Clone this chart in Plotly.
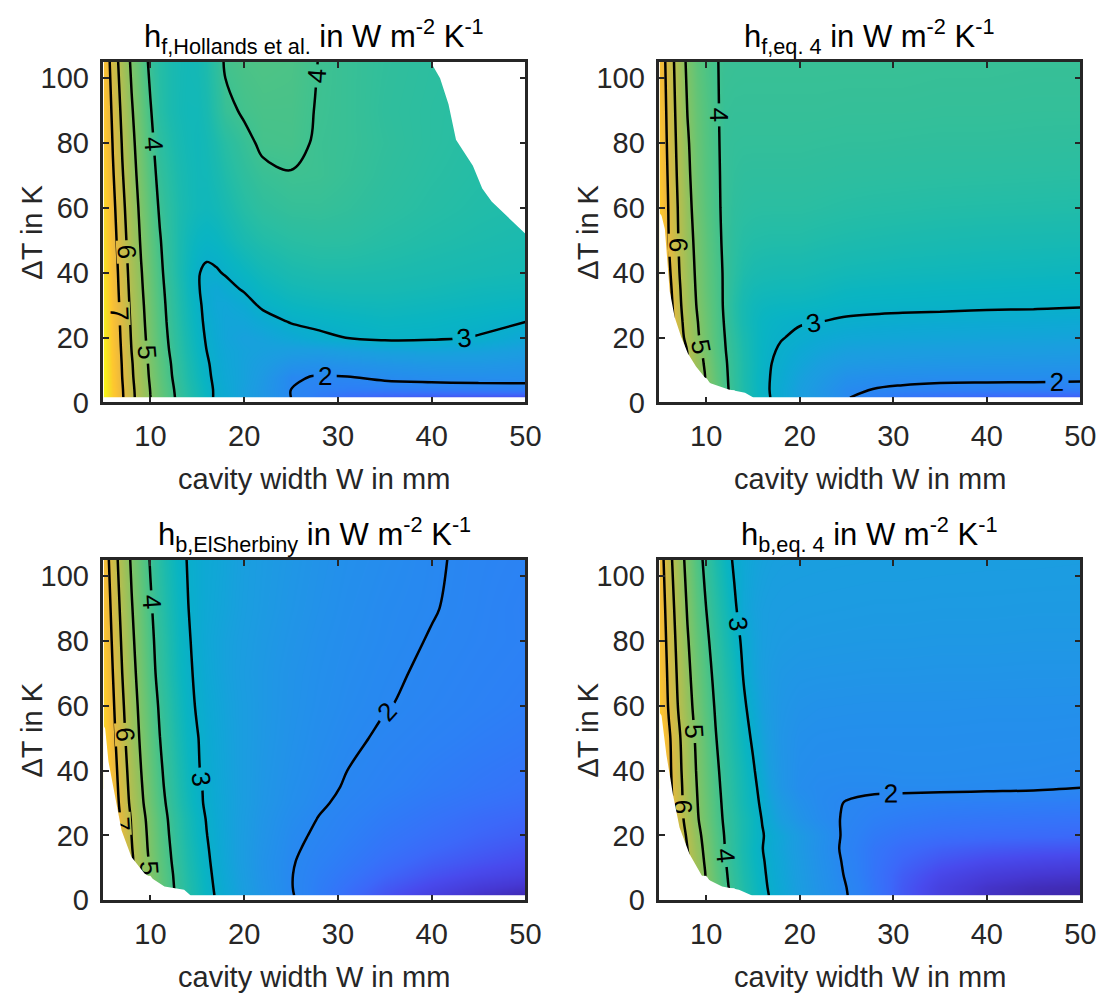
import math
import plotly.graph_objects as go

# ---------------- data ----------------
W = [5, 6, 7, 8, 9, 10, 11, 12, 13, 14, 15, 16, 17, 18, 20, 22, 25, 28, 31, 35, 40, 45, 50]   # cavity width in mm
DT = [1.5, 4, 8, 12, 16, 20, 25, 30, 35, 40, 50, 60, 70, 80, 90, 105]                          # temperature difference in K
N = None

H_F_HOLLANDS = [
    [9.89, 8.26, 7.10, 6.23, 5.55, 5.01, 4.57, 4.20, 3.88, 3.62, 3.38, 3.18, 2.92, 2.84, 2.57, 2.35, 2.00, 1.80, 1.68, 1.60, 1.55, 1.52, 1.50],
    [9.86, 8.23, 7.07, 6.20, 5.52, 4.98, 4.53, 4.17, 3.85, 3.58, 3.35, 3.15, 2.93, 2.81, 2.58, 2.36, 2.00, 1.90, 1.86, 1.85, 1.85, 1.86, 1.86],
    [9.76, 8.14, 6.99, 6.12, 5.45, 4.91, 4.47, 4.10, 3.79, 3.52, 3.29, 3.09, 2.90, 2.78, 2.62, 2.40, 2.02, 1.99, 2.00, 2.07, 2.12, 2.14, 2.15],
    [9.68, 8.07, 6.93, 6.07, 5.40, 4.86, 4.42, 4.06, 3.75, 3.48, 3.25, 3.05, 2.88, 2.76, 2.62, 2.48, 2.25, 2.20, 2.24, 2.30, 2.36, 2.36, 2.30],
    [9.58, 7.99, 6.85, 5.99, 5.33, 4.80, 4.36, 4.00, 3.69, 3.43, 3.20, 3.00, 2.85, 2.74, 2.64, 2.58, 2.50, 2.48, 2.55, 2.62, 2.66, 2.62, 2.52],
    [9.50, 7.91, 6.78, 5.93, 5.27, 4.74, 4.31, 3.95, 3.65, 3.39, 3.16, 2.96, 2.82, 2.70, 2.60, 2.64, 2.78, 2.92, 3.01, 3.10, 3.07, 2.98, 2.75],
    [9.40, 7.83, 6.71, 5.87, 5.21, 4.69, 4.26, 3.90, 3.60, 3.34, 3.12, 2.92, 2.80, 2.70, 2.72, 2.84, 3.03, 3.10, 3.15, 3.20, 3.17, 3.10, 3.01],
    [9.30, 7.75, 6.64, 5.80, 5.16, 4.64, 4.22, 3.86, 3.56, 3.31, 3.09, 2.89, 2.76, 2.74, 2.85, 3.07, 3.20, 3.25, 3.28, 3.30, 3.26, 3.22, 3.17],
    [9.20, 7.66, 6.57, 5.74, 5.10, 4.59, 4.17, 3.82, 3.53, 3.27, 3.05, 2.86, 2.80, 2.88, 3.04, 3.20, 3.33, 3.38, 3.40, 3.40, 3.36, 3.30, 3.28],
    [9.11, 7.59, 6.50, 5.68, 5.05, 4.54, 4.13, 3.76, 3.48, 3.25, 3.03, 2.93, 2.96, 3.03, 3.18, 3.32, 3.45, 3.50, 3.50, 3.48, 3.44, 3.40, 3.36],
    [8.91, 7.42, 6.35, 5.56, 4.93, 4.44, 4.04, 3.72, 3.48, 3.30, 3.18, 3.14, 3.18, 3.26, 3.44, 3.56, 3.66, 3.70, 3.69, 3.62, 3.55, 3.50, 3.46],
    [8.72, 7.26, 6.22, 5.44, 4.83, 4.34, 3.94, 3.68, 3.50, 3.38, 3.30, 3.28, 3.33, 3.42, 3.62, 3.76, 3.85, 3.86, 3.81, 3.72, 3.63, 3.56, 3.52],
    [8.52, 7.09, 6.07, 5.31, 4.71, 4.24, 3.84, 3.62, 3.47, 3.37, 3.31, 3.32, 3.42, 3.54, 3.76, 3.90, 3.98, 3.96, 3.88, 3.77, 3.67, 3.60, N],
    [8.34, 6.94, 5.94, 5.19, 4.61, 4.14, 3.74, 3.55, 3.42, 3.34, 3.30, 3.36, 3.50, 3.65, 3.88, 4.08, 4.10, 3.95, 3.90, 3.80, 3.70, 3.62, N],
    [8.15, 6.78, 5.80, 5.07, 4.50, 4.04, 3.64, 3.47, 3.37, 3.32, 3.32, 3.42, 3.65, 3.88, 4.06, 4.13, 4.13, 3.97, 3.90, 3.78, 3.70, 3.65, N],
    [7.92, 6.53, 5.59, 4.88, 4.33, 3.88, 3.62, 3.47, 3.38, 3.34, 3.37, 3.50, 3.75, 4.06, 4.17, 4.22, 4.18, 3.99, 3.90, 3.80, 3.72, N, N],
]

H_F_EQ4 = [
    [N, N, N, N, N, N, N, N, N, 3.55, 3.30, 3.12, 2.98, 2.82, 2.55, 2.34, 2.02, 1.86, 1.75, 1.68, 1.63, 1.60, 1.58],
    [N, N, N, N, N, N, 4.55, 4.13, 3.80, 3.52, 3.29, 3.10, 2.97, 2.82, 2.56, 2.36, 2.07, 1.99, 1.94, 1.90, 1.88, 1.87, 1.86],
    [N, N, N, N, 5.45, 4.94, 4.47, 4.10, 3.78, 3.50, 3.28, 3.10, 2.98, 2.86, 2.62, 2.44, 2.20, 2.14, 2.12, 2.10, 2.10, 2.10, 2.09],
    [N, N, N, 6.00, 5.40, 4.85, 4.42, 4.07, 3.77, 3.50, 3.29, 3.12, 3.00, 2.90, 2.72, 2.56, 2.40, 2.36, 2.34, 2.32, 2.31, 2.30, 2.29],
    [N, N, 6.60, 5.97, 5.28, 4.76, 4.35, 4.03, 3.74, 3.48, 3.28, 3.13, 3.04, 2.95, 2.82, 2.70, 2.58, 2.55, 2.53, 2.51, 2.50, 2.49, 2.47],
    [N, 7.90, 6.50, 5.70, 5.12, 4.66, 4.30, 4.00, 3.70, 3.45, 3.28, 3.15, 3.07, 3.02, 2.93, 2.84, 2.76, 2.73, 2.71, 2.69, 2.67, 2.66, 2.64],
    [N, 7.70, 6.35, 5.60, 5.05, 4.60, 4.27, 3.96, 3.63, 3.40, 3.26, 3.17, 3.12, 3.08, 3.03, 3.01, 2.95, 2.92, 2.90, 2.88, 2.86, 2.85, 2.83],
    [N, 7.50, 6.25, 5.50, 4.97, 4.55, 4.24, 3.93, 3.60, 3.40, 3.29, 3.24, 3.22, 3.21, 3.20, 3.17, 3.12, 3.10, 3.09, 3.08, 3.06, 3.05, 3.03],
    [8.70, 7.35, 6.18, 5.45, 4.92, 4.50, 4.22, 3.93, 3.64, 3.45, 3.36, 3.33, 3.32, 3.31, 3.31, 3.28, 3.22, 3.20, 3.19, 3.17, 3.16, 3.14, 3.13],
    [8.60, 7.20, 6.10, 5.40, 4.88, 4.48, 4.20, 3.93, 3.68, 3.52, 3.45, 3.42, 3.41, 3.40, 3.40, 3.37, 3.33, 3.31, 3.29, 3.28, 3.26, 3.25, 3.23],
    [8.45, 7.00, 6.02, 5.32, 4.80, 4.42, 4.16, 3.90, 3.72, 3.62, 3.58, 3.57, 3.56, 3.56, 3.56, 3.53, 3.50, 3.48, 3.46, 3.44, 3.42, 3.41, 3.40],
    [8.30, 6.92, 5.96, 5.24, 4.70, 4.36, 4.12, 3.89, 3.76, 3.71, 3.69, 3.68, 3.68, 3.68, 3.68, 3.66, 3.63, 3.61, 3.60, 3.58, 3.57, 3.56, 3.55],
    [8.15, 6.82, 5.86, 5.15, 4.64, 4.32, 4.10, 3.89, 3.80, 3.77, 3.76, 3.76, 3.76, 3.76, 3.76, 3.75, 3.73, 3.72, 3.71, 3.70, 3.69, 3.68, 3.67],
    [8.05, 6.72, 5.78, 5.08, 4.60, 4.30, 4.10, 3.86, 3.83, 3.82, 3.82, 3.82, 3.82, 3.82, 3.82, 3.81, 3.80, 3.80, 3.79, 3.78, 3.78, 3.77, 3.76],
    [7.95, 6.64, 5.70, 4.98, 4.55, 4.27, 4.07, 3.88, 3.86, 3.86, 3.86, 3.86, 3.86, 3.86, 3.86, 3.86, 3.85, 3.85, 3.85, 3.84, 3.84, 3.83, 3.83],
    [7.80, 6.52, 5.59, 4.85, 4.45, 4.20, 4.03, 3.93, 3.91, 3.90, 3.90, 3.90, 3.90, 3.90, 3.90, 3.90, 3.90, 3.90, 3.90, 3.89, 3.89, 3.88, 3.88],
]

H_B_ELSHERBINY = [
    [N, N, N, N, N, N, N, N, 3.88, 3.60, 3.36, 3.15, 2.97, 2.81, 2.52, 2.29, 2.02, 1.84, 1.71, 1.57, 1.44, 1.34, 1.27],
    [N, N, N, N, N, N, 4.55, 4.17, 3.85, 3.58, 3.34, 3.13, 2.95, 2.79, 2.50, 2.27, 2.01, 1.85, 1.74, 1.61, 1.50, 1.41, 1.35],
    [N, N, N, N, 5.50, 4.96, 4.50, 4.13, 3.82, 3.54, 3.31, 3.10, 2.92, 2.76, 2.48, 2.25, 2.01, 1.87, 1.78, 1.67, 1.57, 1.50, 1.45],
    [N, N, N, 6.11, 5.44, 4.90, 4.45, 4.08, 3.77, 3.50, 3.27, 3.07, 2.89, 2.73, 2.46, 2.24, 2.02, 1.90, 1.82, 1.72, 1.63, 1.57, 1.52],
    [N, N, 6.91, 6.05, 5.38, 4.84, 4.41, 4.04, 3.73, 3.47, 3.24, 3.04, 2.87, 2.72, 2.46, 2.26, 2.04, 1.93, 1.85, 1.76, 1.68, 1.62, 1.57],
    [N, 7.98, 6.84, 5.99, 5.33, 4.80, 4.36, 4.00, 3.69, 3.43, 3.20, 3.01, 2.85, 2.71, 2.47, 2.28, 2.06, 1.96, 1.88, 1.79, 1.72, 1.66, 1.62],
    [N, 7.89, 6.76, 5.92, 5.26, 4.74, 4.31, 3.95, 3.65, 3.39, 3.17, 2.98, 2.83, 2.70, 2.48, 2.30, 2.10, 1.99, 1.91, 1.83, 1.76, 1.70, 1.66],
    [N, 7.70, 6.60, 5.78, 5.14, 4.63, 4.22, 3.87, 3.57, 3.32, 3.10, 2.94, 2.81, 2.70, 2.50, 2.33, 2.15, 2.03, 1.95, 1.87, 1.80, 1.75, 1.71],
    [9.09, 7.58, 6.50, 5.70, 5.07, 4.57, 4.15, 3.81, 3.52, 3.27, 3.08, 2.93, 2.80, 2.69, 2.50, 2.34, 2.17, 2.06, 1.98, 1.91, 1.84, 1.79, 1.75],
    [8.97, 7.48, 6.42, 5.63, 5.01, 4.51, 4.10, 3.77, 3.48, 3.24, 3.04, 2.90, 2.78, 2.68, 2.50, 2.35, 2.19, 2.08, 2.00, 1.93, 1.86, 1.81, 1.77],
    [8.72, 7.29, 6.26, 5.49, 4.89, 4.41, 4.01, 3.69, 3.41, 3.18, 3.02, 2.87, 2.76, 2.67, 2.50, 2.37, 2.22, 2.11, 2.04, 1.97, 1.91, 1.86, 1.82],
    [8.55, 7.14, 6.13, 5.38, 4.79, 4.32, 3.93, 3.61, 3.34, 3.12, 2.96, 2.84, 2.74, 2.65, 2.50, 2.38, 2.24, 2.14, 2.07, 2.01, 1.95, 1.90, 1.86],
    [8.39, 7.00, 6.00, 5.26, 4.68, 4.21, 3.83, 3.52, 3.26, 3.08, 2.92, 2.80, 2.70, 2.62, 2.48, 2.38, 2.25, 2.16, 2.09, 2.03, 1.97, 1.92, 1.88],
    [8.17, 6.83, 5.87, 5.15, 4.59, 4.14, 3.78, 3.48, 3.23, 3.05, 2.88, 2.77, 2.69, 2.62, 2.50, 2.40, 2.28, 2.18, 2.11, 2.05, 1.99, 1.94, 1.90],
    [7.98, 6.68, 5.74, 5.05, 4.50, 4.07, 3.71, 3.42, 3.20, 3.01, 2.88, 2.79, 2.72, 2.66, 2.53, 2.43, 2.31, 2.21, 2.13, 2.06, 2.01, 1.95, 1.89],
    [7.72, 6.46, 5.57, 4.90, 4.38, 3.96, 3.63, 3.35, 3.13, 2.98, 2.87, 2.80, 2.75, 2.68, 2.55, 2.45, 2.34, 2.24, 2.16, 2.09, 2.02, 1.96, 1.92],
]

H_B_EQ4 = [
    [N, N, N, N, N, N, N, N, N, 3.58, 3.33, 3.12, 2.95, 2.79, 2.51, 2.28, 2.01, 1.78, 1.60, 1.44, 1.33, 1.27, 1.25],
    [N, N, N, N, N, N, 4.55, 4.13, 3.81, 3.54, 3.30, 3.10, 2.92, 2.77, 2.49, 2.26, 2.00, 1.77, 1.60, 1.45, 1.35, 1.30, 1.28],
    [N, N, N, N, 5.50, 4.95, 4.48, 4.08, 3.77, 3.50, 3.27, 3.07, 2.89, 2.74, 2.47, 2.24, 1.97, 1.76, 1.62, 1.50, 1.42, 1.38, 1.36],
    [N, N, N, 6.10, 5.43, 4.87, 4.41, 4.04, 3.72, 3.46, 3.23, 3.04, 2.87, 2.72, 2.45, 2.22, 1.95, 1.77, 1.66, 1.57, 1.51, 1.48, 1.46],
    [N, N, 6.86, 6.00, 5.33, 4.80, 4.36, 4.00, 3.69, 3.43, 3.20, 3.01, 2.83, 2.68, 2.42, 2.20, 1.93, 1.78, 1.70, 1.64, 1.60, 1.58, 1.57],
    [N, 7.75, 6.67, 5.86, 5.23, 4.73, 4.32, 3.97, 3.68, 3.43, 3.22, 3.03, 2.85, 2.70, 2.43, 2.22, 1.94, 1.82, 1.76, 1.72, 1.70, 1.69, 1.68],
    [N, 7.44, 6.44, 5.68, 5.09, 4.63, 4.24, 3.92, 3.65, 3.42, 3.22, 2.98, 2.74, 2.52, 2.27, 2.10, 1.97, 1.88, 1.84, 1.80, 1.78, 1.77, 1.76],
    [N, 7.40, 6.36, 5.62, 5.04, 4.58, 4.20, 3.88, 3.60, 3.36, 3.15, 2.92, 2.66, 2.43, 2.20, 2.07, 1.99, 1.94, 1.91, 1.88, 1.87, 1.86, 1.85],
    [8.70, 7.31, 6.32, 5.58, 5.00, 4.53, 4.16, 3.84, 3.57, 3.34, 3.12, 2.84, 2.55, 2.33, 2.12, 2.07, 2.05, 2.05, 2.06, 2.06, 2.05, 2.04, 2.01],
    [8.62, 7.25, 6.26, 5.53, 4.95, 4.49, 4.12, 3.80, 3.54, 3.31, 3.06, 2.76, 2.50, 2.32, 2.14, 2.10, 2.09, 2.09, 2.10, 2.10, 2.09, 2.08, 2.06],
    [8.54, 7.17, 6.18, 5.44, 4.87, 4.41, 4.03, 3.72, 3.45, 3.20, 2.93, 2.65, 2.45, 2.30, 2.18, 2.15, 2.14, 2.14, 2.14, 2.14, 2.13, 2.13, 2.12],
    [8.19, 6.89, 5.97, 5.28, 4.74, 4.30, 3.95, 3.66, 3.40, 3.07, 2.82, 2.58, 2.42, 2.33, 2.25, 2.22, 2.21, 2.20, 2.20, 2.20, 2.19, 2.19, 2.18],
    [8.04, 6.77, 5.85, 5.17, 4.63, 4.21, 3.86, 3.57, 3.30, 2.97, 2.70, 2.53, 2.43, 2.37, 2.33, 2.32, 2.31, 2.30, 2.30, 2.29, 2.29, 2.28, 2.28],
    [7.91, 6.64, 5.74, 5.06, 4.53, 4.11, 3.76, 3.48, 3.19, 2.90, 2.68, 2.55, 2.48, 2.44, 2.41, 2.40, 2.39, 2.38, 2.38, 2.37, 2.37, 2.36, 2.36],
    [7.77, 6.51, 5.62, 4.94, 4.42, 4.00, 3.66, 3.38, 3.08, 2.76, 2.62, 2.55, 2.51, 2.49, 2.47, 2.46, 2.45, 2.44, 2.44, 2.43, 2.43, 2.42, 2.42],
    [7.55, 6.31, 5.43, 4.77, 4.25, 3.84, 3.51, 3.23, 2.93, 2.78, 2.68, 2.62, 2.58, 2.56, 2.55, 2.54, 2.53, 2.52, 2.52, 2.51, 2.50, 2.50, 2.49],
]

# limits of the valid range (white = no result)
HOL_LIMIT_DT = [105, 100, 92, 81, 73, 66, 62, 58, 52]
HOL_LIMIT_W = [39.9, 40.9, 41.8, 42.6, 44.4, 45.4, 46.4, 47.8, 50.0]
FEQ4_LIMIT_DT = [58.5, 57.6, 53.5, 41.4, 34.3, 26.3, 20.2, 15.2, 11.1, 6.1, 4.0, 3.0, 1.5]
FEQ4_LIMIT_W = [5.0, 5.23, 5.58, 5.93, 6.1, 6.63, 7.33, 8.03, 8.91, 10.3, 12.4, 14.15, 15.04]
ELS_LIMIT_DT = [54.0, 52.9, 42.8, 31.6, 21.5, 13.4, 8.3, 4.3, 3.3, 1.5]
ELS_LIMIT_W = [5.0, 5.18, 5.53, 6.23, 6.93, 7.98, 9.38, 11.5, 13.6, 14.3]
BEQ4_LIMIT_DT = [58.0, 56.9, 44.8, 32.6, 22.5, 14.4, 7.3, 4.3, 3.3, 1.5]
BEQ4_LIMIT_W = [5.0, 5.23, 5.75, 6.45, 7.15, 8.2, 9.6, 11.7, 13.5, 14.9]

TITLES = [
    "h<sub>f,Hollands et al.</sub> in W m<sup>-2</sup> K<sup>-1</sup>",
    "h<sub>f,eq. 4</sub> in W m<sup>-2</sup> K<sup>-1</sup>",
    "h<sub>b,ElSherbiny</sub> in W m<sup>-2</sup> K<sup>-1</sup>",
    "h<sub>b,eq. 4</sub> in W m<sup>-2</sup> K<sup>-1</sup>",
]
X_LABEL = "cavity width W in mm"
Y_LABEL = "\u0394T in K"
X_TICKS = [10, 20, 30, 40, 50]
Y_TICKS = [0, 20, 40, 60, 80, 100]

# ---------------- styling ----------------
FONT = "Liberation Sans, Arial, Helvetica, sans-serif"
INK = "#262626"
ZMIN, ZMAX = 1.24, 9.9

PARULA = [
    (0.00, (62, 38, 168)), (0.05, (70, 56, 210)), (0.10, (72, 75, 238)), (0.15, (58, 108, 250)),
    (0.20, (44, 128, 245)), (0.25, (38, 140, 238)), (0.30, (32, 150, 230)), (0.35, (25, 159, 222)),
    (0.40, (12, 170, 210)), (0.45, (8, 180, 195)), (0.50, (30, 187, 172)), (0.55, (55, 192, 150)),
    (0.60, (85, 196, 128)), (0.65, (118, 196, 108)), (0.70, (150, 193, 92)), (0.75, (180, 190, 80)),
    (0.80, (208, 187, 70)), (0.85, (236, 185, 62)), (0.90, (254, 197, 48)), (0.95, (246, 223, 37)),
    (1.00, (249, 251, 20)),
]


def parula(p):
    p = min(max(p, 0.0), 1.0)
    for (p0, c0), (p1, c1) in zip(PARULA[:-1], PARULA[1:]):
        if p <= p1:
            t = (p - p0) / (p1 - p0)
            return "rgb(%d,%d,%d)" % tuple(round(a + (b - a) * t) for a, b in zip(c0, c1))
    return "rgb(%d,%d,%d)" % PARULA[-1][1]


# colour is logarithmic in h
COLORSCALE = []
for i in range(121):
    f = i / 120
    h = ZMIN + f * (ZMAX - ZMIN)
    p = (math.log(h) - math.log(ZMIN)) / (math.log(ZMAX) - math.log(ZMIN))
    COLORSCALE.append([f, parula(p)])

fig = go.Figure()

PANELS = [
    (H_F_HOLLANDS, "x", "y"),
    (H_F_EQ4, "x2", "y2"),
    (H_B_ELSHERBINY, "x3", "y3"),
    (H_B_EQ4, "x4", "y4"),
]

for H, xa, ya in PANELS:
    fig.add_trace(go.Contour(
        x=W, y=DT, z=H, xaxis=xa, yaxis=ya,
        zmin=ZMIN, zmax=ZMAX, colorscale=COLORSCALE, showscale=False,
        contours=dict(start=2, end=7, size=1, coloring="heatmap", showlabels=True,
                      labelfont=dict(family=FONT, size=26, color="black")),
        line=dict(color="black", width=2.5, smoothing=1),
        hoverinfo="skip",
    ))

# white masks where no result exists
masks = [
    (HOL_LIMIT_W + [W[-1]] + [None] + [W[0], W[-1], W[-1], W[0]],
     HOL_LIMIT_DT + [HOL_LIMIT_DT[0]] + [None] + [DT[0], DT[0], 0, 0], "x", "y"),
    (FEQ4_LIMIT_W + [W[-1], W[-1], W[0]], FEQ4_LIMIT_DT + [DT[0], 0, 0], "x2", "y2"),
    (ELS_LIMIT_W + [W[-1], W[-1], W[0]], ELS_LIMIT_DT + [DT[0], 0, 0], "x3", "y3"),
    (BEQ4_LIMIT_W + [W[-1], W[-1], W[0]], BEQ4_LIMIT_DT + [DT[0], 0, 0], "x4", "y4"),
]
for mx, my, xa, ya in masks:
    fig.add_trace(go.Scatter(x=mx, y=my, xaxis=xa, yaxis=ya, mode="lines", fill="toself",
                             fillcolor="white", line=dict(width=0, color="white"),
                             hoverinfo="skip", showlegend=False))

FIG_W, FIG_H = 1119, 998
XD = [[105 / FIG_W, 533 / FIG_W], [669 / FIG_W, 1096 / FIG_W]]
YD = [[(FIG_H - 409) / FIG_H, (FIG_H - 63) / FIG_H], [(FIG_H - 915) / FIG_H, (FIG_H - 569) / FIG_H]]

axis_common = dict(showline=True, linecolor=INK, linewidth=2.5, mirror="allticks",
                   ticks="inside", ticklen=6, tickwidth=2, tickcolor=INK,
                   showgrid=False, zeroline=False,
                   tickfont=dict(family=FONT, size=29, color=INK))

layout = dict(width=FIG_W, height=FIG_H, margin=dict(l=0, r=0, t=0, b=0),
              paper_bgcolor="white", plot_bgcolor="white", showlegend=False,
              font=dict(family=FONT, color=INK))
ann = []
for k in range(4):
    r, c = divmod(k, 2)
    sx = "" if k == 0 else str(k + 1)
    layout["xaxis" + sx] = dict(axis_common, domain=XD[c], range=[5, 50], tickvals=X_TICKS,
                                anchor="y" + sx, ticklabelstandoff=6)
    layout["yaxis" + sx] = dict(axis_common, domain=YD[r], range=[0, 105], tickvals=Y_TICKS,
                                anchor="x" + sx, ticklabelstandoff=6)
    xc = (XD[c][0] + XD[c][1]) / 2
    ann.append(dict(text=TITLES[k], xref="paper", yref="paper",
                    x=xc, y=YD[r][1], xanchor="center", yanchor="bottom",
                    yshift=1, showarrow=False, font=dict(family=FONT, size=31, color="black")))
    ann.append(dict(text=X_LABEL, xref="paper", yref="paper",
                    x=xc, y=YD[r][0], xanchor="center", yanchor="middle",
                    yshift=-77, showarrow=False, font=dict(family=FONT, size=29, color=INK)))
    ann.append(dict(text=Y_LABEL, xref="paper", yref="paper", textangle=-90,
                    x=XD[c][0], y=(YD[r][0] + YD[r][1]) / 2, xanchor="center", yanchor="middle",
                    xshift=-71, showarrow=False,
                    font=dict(family=FONT, size=29, color=INK)))
layout["annotations"] = ann
fig.update_layout(**layout)

fig.write_html("out.html", config={"displayModeBar": False},
               post_script="document.body.style.margin='0';document.body.style.overflow='hidden';")
